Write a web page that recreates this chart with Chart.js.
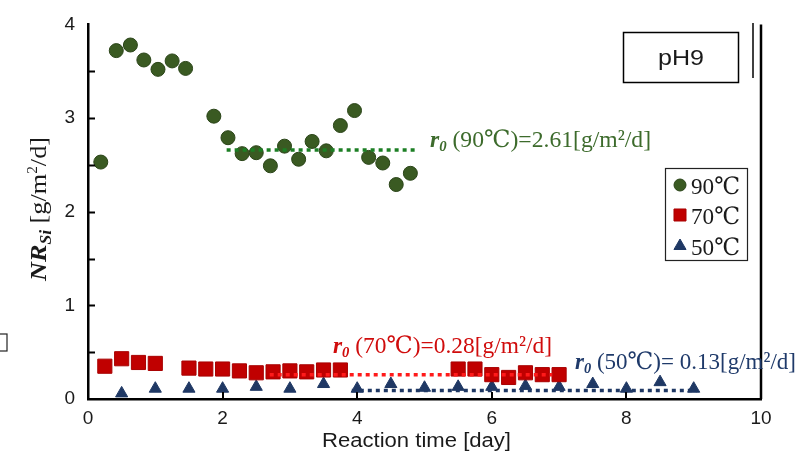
<!DOCTYPE html>
<html>
<head>
<meta charset="utf-8">
<script src="https://cdn.jsdelivr.net/npm/chart.js@4.4.1/dist/chart.umd.min.js"></script>
<style>
  html, body { margin: 0; padding: 0; background: #fff; }
</style>
</head>
<body>
<canvas id="chart" width="801" height="457"></canvas>
<script>
// 90°C series (circles)
const days90 = [0.19, 0.42, 0.63, 0.83, 1.04, 1.25, 1.45, 1.87, 2.08, 2.29, 2.5, 2.71, 2.92, 3.13, 3.33, 3.54, 3.75, 3.96, 4.17, 4.38, 4.58, 4.79];
const nr90 = [2.53, 3.72, 3.78, 3.62, 3.52, 3.61, 3.53, 3.02, 2.79, 2.62, 2.63, 2.49, 2.70, 2.56, 2.75, 2.65, 2.92, 3.08, 2.58, 2.52, 2.29, 2.41];

// 70°C series (squares)
const days70 = [0.25, 0.5, 0.75, 1.0, 1.5, 1.75, 2.0, 2.25, 2.5, 2.75, 3.0, 3.25, 3.5, 3.75, 5.5, 5.75, 6.0, 6.25, 6.5, 6.75, 7.0];
const nr70 = [0.35, 0.43, 0.39, 0.38, 0.33, 0.32, 0.32, 0.30, 0.28, 0.29, 0.30, 0.29, 0.31, 0.31, 0.32, 0.32, 0.26, 0.23, 0.28, 0.26, 0.26];

// 50°C series (triangles)
const days50 = [0.5, 1.0, 1.5, 2.0, 2.5, 3.0, 3.5, 4.0, 4.5, 5.0, 5.5, 6.0, 6.5, 7.0, 7.5, 8.0, 8.5, 9.0];
const nr50 = [0.06, 0.11, 0.11, 0.11, 0.13, 0.11, 0.16, 0.11, 0.16, 0.12, 0.13, 0.13, 0.14, 0.13, 0.16, 0.11, 0.18, 0.11];

// r0 average lines
const fit90Days = [2.06, 4.88];
const fit90Rate = [2.66, 2.66];
const fit70Days = [2.7, 6.9];
const fit70Rate = [0.26, 0.26];
const fit50Days = [3.92, 9.05];
const fit50Rate = [0.09, 0.09];

const xTicks = [0, 2, 4, 6, 8, 10];
const yTicks = [0, 1, 2, 3, 4];

const COLORS = {
    green: '#3a5a22',
    greenEdge: '#2a4418',
    greenLine: '#1c7f24',
    greenText: '#3d6b2c',
    red: '#c00000',
    redLine: '#ff1a1a',
    redText: '#d00c0c',
    blue: '#1f3864',
    blueText: '#1f3a6a',
    text: '#1a1a1a'
};

const SERIF = "'Liberation Serif', 'DejaVu Serif', serif";
const SANS = "'Liberation Sans', Arial, sans-serif";

function pts(xs, ys) {
    return xs.map((x, i) => ({ x: x, y: ys[i] }));
}

// draw a row of text pieces, stretched to a given width
function drawRuns(ctx, runs, x, y, width) {
    let total = 0;
    runs.forEach(r => { ctx.font = r.font; total += ctx.measureText(r.t).width; });
    const sx = width ? width / total : 1;
    ctx.save();
    ctx.translate(x, y);
    ctx.scale(sx, 1);
    let cx = 0;
    runs.forEach(r => {
        ctx.font = r.font;
        ctx.fillText(r.t, cx, r.dy || 0);
        cx += ctx.measureText(r.t).width;
    });
    ctx.restore();
}

function r0Runs(label) {
    return [
        { t: 'r', font: 'italic bold 24px ' + SERIF },
        { t: '0', font: 'italic bold 15px ' + SERIF, dy: 4 },
        { t: ' ' + label, font: '24px ' + SERIF }
    ];
}

const decor = {
    id: 'decor',
    afterDraw(chart) {
        const ctx = chart.ctx;
        const a = chart.chartArea;
        const xs = chart.scales.x, ys = chart.scales.y;
        ctx.save();

        // inside tick marks
        ctx.strokeStyle = '#000';
        ctx.lineWidth = 2;
        ctx.beginPath();
        for (let v = 0.5; v < 4; v += 0.5) {
            const py = Math.round(ys.getPixelForValue(v)) + 0.5;
            ctx.moveTo(a.left, py);
            ctx.lineTo(a.left + 7, py);
        }
        [2, 4, 6, 8].forEach(v => {
            const px = Math.round(xs.getPixelForValue(v));
            ctx.moveTo(px, a.bottom);
            ctx.lineTo(px, a.bottom - 7);
        });
        ctx.stroke();

        // right frame line
        ctx.lineWidth = 2.5;
        ctx.beginPath();
        ctx.moveTo(a.right, a.top);
        ctx.lineTo(a.right, a.bottom);
        ctx.stroke();
        ctx.lineWidth = 1.5;
        ctx.beginPath();
        ctx.moveTo(753, 23);
        ctx.lineTo(753, 78);
        ctx.stroke();

        // pH9 box
        ctx.lineWidth = 1.5;
        ctx.strokeRect(623.5, 32.5, 115, 50);
        ctx.fillStyle = COLORS.text;
        ctx.textBaseline = 'alphabetic';
        drawRuns(ctx, [{ t: 'pH9', font: '22px ' + SANS }], 658, 65, 46);

        // stray box at the left edge
        ctx.lineWidth = 1.2;
        ctx.strokeStyle = '#222';
        ctx.strokeRect(-4, 334, 11, 17);

        // r0 annotations
        ctx.fillStyle = COLORS.greenText;
        drawRuns(ctx, r0Runs('(90℃)=2.61[g/m²/d]'), 430, 147, 221);
        ctx.fillStyle = COLORS.redText;
        drawRuns(ctx, r0Runs('(70℃)=0.28[g/m²/d]'), 333, 353, 219);
        ctx.fillStyle = COLORS.blueText;
        drawRuns(ctx, r0Runs('(50℃)= 0.13[g/m²/d]'), 575, 369, 221);

        // legend
        ctx.strokeStyle = '#222';
        ctx.lineWidth = 1.2;
        ctx.strokeRect(665.5, 168.5, 82, 92);
        const items = [
            { ds: 1, label: '90℃', y: 185 },
            { ds: 2, label: '70℃', y: 215 },
            { ds: 3, label: '50℃', y: 246 }
        ];
        items.forEach(it => {
            const d = chart.data.datasets[it.ds];
            ctx.fillStyle = d.backgroundColor;
            ctx.strokeStyle = d.borderColor;
            ctx.lineWidth = 1;
            Chart.helpers.drawPoint(ctx, { pointStyle: d.pointStyle, radius: d.legendRadius, borderWidth: 1 }, 680, it.y);
            ctx.fillStyle = COLORS.text;
            drawRuns(ctx, [{ t: it.label, font: '24px ' + SERIF }], 691, it.y + 9, 49);
        });

        // y axis title
        ctx.save();
        ctx.translate(46, 209);
        ctx.rotate(-Math.PI / 2);
        ctx.fillStyle = COLORS.text;
        const yRuns = [
            { t: 'NR', font: 'italic bold 24px ' + SERIF },
            { t: 'Si', font: 'italic bold 16px ' + SERIF, dy: 5 },
            { t: ' [g/m', font: '24px ' + SERIF },
            { t: '2', font: '14px ' + SERIF, dy: -9 },
            { t: '/d]', font: '24px ' + SERIF }
        ];
        drawRuns(ctx, yRuns, -72, 0, 144);
        ctx.restore();

        // x axis title
        ctx.fillStyle = COLORS.text;
        drawRuns(ctx, [{ t: 'Reaction time [day]', font: '20px ' + SANS }], 322, 447, 189);

        ctx.restore();
    }
};

const tickFont = { family: SANS, size: 19 };

new Chart(document.getElementById('chart'), {
    type: 'scatter',
    data: {
        datasets: [
            { type: 'line', data: pts(fit90Days, fit90Rate), borderColor: COLORS.greenLine, borderWidth: 3.5, borderDash: [4, 4], pointRadius: 0, fill: false },
            { label: '90℃', data: pts(days90, nr90), pointStyle: 'circle', pointRadius: 7, legendRadius: 6, backgroundColor: COLORS.green, borderColor: COLORS.greenEdge, borderWidth: 1 },
            { label: '70℃', data: pts(days70, nr70), pointStyle: 'rect', pointRadius: 10, legendRadius: 8.5, backgroundColor: COLORS.red, borderColor: '#a80000', borderWidth: 1 },
            { label: '50℃', data: pts(days50, nr50), pointStyle: 'triangle', pointRadius: 7, legendRadius: 7, backgroundColor: COLORS.blue, borderColor: COLORS.blue, borderWidth: 1 },
            { type: 'line', data: pts(fit70Days, fit70Rate), borderColor: COLORS.redLine, borderWidth: 3.5, borderDash: [4, 4], pointRadius: 0, fill: false, order: -1 },
            { type: 'line', data: pts(fit50Days, fit50Rate), borderColor: COLORS.blue, borderWidth: 3.5, borderDash: [4, 4], pointRadius: 0, fill: false, order: -1 }
        ]
    },
    options: {
        responsive: false,
        animation: false,
        layout: { padding: { top: 15, right: 40, bottom: 0, left: 0 } },
        plugins: { legend: { display: false }, tooltip: { enabled: false } },
        scales: {
            x: {
                type: 'linear', min: 0, max: 10,
                afterBuildTicks: s => { s.ticks = xTicks.map(v => ({ value: v })); },
                afterFit: s => { s.height = 58; },
                grid: { display: false, drawTicks: false },
                border: { color: '#000', width: 2.5 },
                ticks: { color: COLORS.text, font: tickFont, padding: 8, maxRotation: 0 }
            },
            y: {
                type: 'linear', min: 0, max: 4,
                afterBuildTicks: s => { s.ticks = yTicks.map(v => ({ value: v })); },
                afterFit: s => { s.width = 88; },
                grid: { display: false, drawTicks: false },
                border: { color: '#000', width: 2.5 },
                ticks: { color: COLORS.text, font: tickFont, padding: 13 }
            }
        }
    },
    plugins: [decor]
});
</script>
</body>
</html>
